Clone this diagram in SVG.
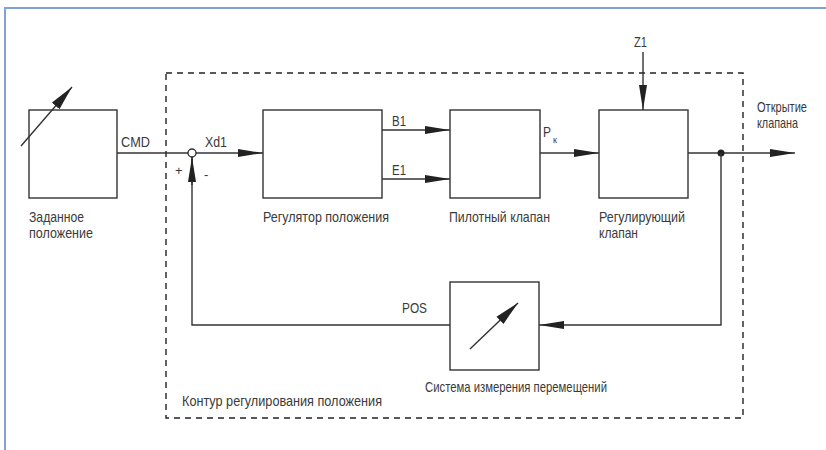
<svg xmlns="http://www.w3.org/2000/svg" width="826" height="450" viewBox="0 0 826 450">
<defs>
<style>
.frame{fill:none;stroke:#7fa3d6;stroke-width:2}
.box{fill:#fff;stroke:#333;stroke-width:1.4}
.ln{fill:none;stroke:#333;stroke-width:1.4}
.dash{fill:none;stroke:#222;stroke-width:1.4;stroke-dasharray:6,5}
.t{font-family:"Liberation Sans",Arial,sans-serif;font-size:15px;fill:#3a3a3a}
.s{font-family:"Liberation Sans",Arial,sans-serif;font-size:9px;fill:#3a3a3a}
</style>
<marker id="ah" markerUnits="userSpaceOnUse" markerWidth="26" markerHeight="10" refX="25" refY="5" orient="auto">
<path d="M0,1 L25,5 L0,9 Z" fill="#222"/>
</marker>
<marker id="ahd" markerUnits="userSpaceOnUse" markerWidth="26" markerHeight="12" refX="25" refY="6" orient="auto">
<path d="M0,1 L25,6 L0,11 Z" fill="#222"/>
</marker>
</defs>
<rect width="826" height="450" fill="#fff"/>
<path class="frame" d="M5,450 L5,8 L826,8"/>
<rect id="loop" class="dash" x="166" y="73" width="577" height="345"/>
<g id="setpoint">
<rect class="box" x="29" y="110" width="88" height="88"/>
<line class="ln" x1="21" y1="146" x2="72" y2="87" marker-end="url(#ahd)"/>
<text class="t" x="29" y="222" textLength="55" lengthAdjust="spacingAndGlyphs">Заданное</text>
<text class="t" x="29" y="238" textLength="64" lengthAdjust="spacingAndGlyphs">положение</text>
</g>
<g id="sum">
<circle cx="192" cy="153" r="4" fill="#fff" stroke="#333" stroke-width="1.4"/>
<text class="t" x="175" y="175" style="font-size:13px">+</text>
<text class="t" x="204" y="179" style="font-size:13px">-</text>
</g>
<g id="regulator">
<rect class="box" x="263" y="110" width="119" height="88"/>
<text class="t" x="263" y="222" textLength="126" lengthAdjust="spacingAndGlyphs">Регулятор положения</text>
</g>
<g id="pilot">
<rect class="box" x="450" y="110" width="90" height="88"/>
<text class="t" x="449" y="222" textLength="101" lengthAdjust="spacingAndGlyphs">Пилотный клапан</text>
</g>
<g id="valve">
<rect class="box" x="599" y="110" width="89" height="88"/>
<text class="t" x="599" y="222" textLength="86" lengthAdjust="spacingAndGlyphs">Регулирующий</text>
<text class="t" x="599" y="238" textLength="39" lengthAdjust="spacingAndGlyphs">клапан</text>
</g>
<g id="measure">
<rect class="box" x="450" y="282" width="89" height="88"/>
<line class="ln" x1="470" y1="349" x2="518" y2="303" marker-end="url(#ahd)"/>
<text class="t" x="425" y="392" textLength="182" lengthAdjust="spacingAndGlyphs">Система измерения перемещений</text>
</g>
<g id="labels">
<text class="t" x="182" y="406" textLength="200" lengthAdjust="spacingAndGlyphs">Контур регулирования положения</text>
<text class="t" x="757" y="112" textLength="50" lengthAdjust="spacingAndGlyphs">Открытие</text>
<text class="t" x="757" y="128" textLength="41" lengthAdjust="spacingAndGlyphs">клапана</text>
</g>
<g id="connectors">
<line class="ln" x1="117" y1="153" x2="188" y2="153"/>
<text class="t" x="121" y="147" textLength="29" lengthAdjust="spacingAndGlyphs">CMD</text>
<line class="ln" x1="196" y1="153" x2="263" y2="153" marker-end="url(#ah)"/>
<text class="t" x="205" y="147" textLength="22" lengthAdjust="spacingAndGlyphs">Xd1</text>
<line class="ln" x1="382" y1="130" x2="450" y2="130" marker-end="url(#ah)"/>
<text class="t" x="392" y="126" textLength="14" lengthAdjust="spacingAndGlyphs">B1</text>
<line class="ln" x1="382" y1="179" x2="450" y2="179" marker-end="url(#ah)"/>
<text class="t" x="392" y="175" textLength="14" lengthAdjust="spacingAndGlyphs">E1</text>
<line class="ln" x1="540" y1="153" x2="599" y2="153" marker-end="url(#ah)"/>
<text class="t" x="543" y="137" textLength="8" lengthAdjust="spacingAndGlyphs">P</text><text class="s" x="553" y="143">к</text>
<line class="ln" x1="643" y1="52" x2="643" y2="110" marker-end="url(#ah)"/>
<text class="t" x="634" y="47" textLength="13" lengthAdjust="spacingAndGlyphs">Z1</text>
<line class="ln" x1="688" y1="153" x2="795" y2="153" marker-end="url(#ah)"/>
<circle cx="721" cy="153" r="3.5" fill="#222"/>
<polyline class="ln" points="721,153 721,325 563,325"/>
<line class="ln" x1="563" y1="325" x2="539" y2="325" marker-end="url(#ah)"/>
<polyline class="ln" points="450,325 192,325 192,157"/>
<line class="ln" x1="192" y1="185" x2="192" y2="157" marker-end="url(#ah)"/>
<text class="t" x="402" y="313" textLength="25" lengthAdjust="spacingAndGlyphs">POS</text>
</g>
</svg>
